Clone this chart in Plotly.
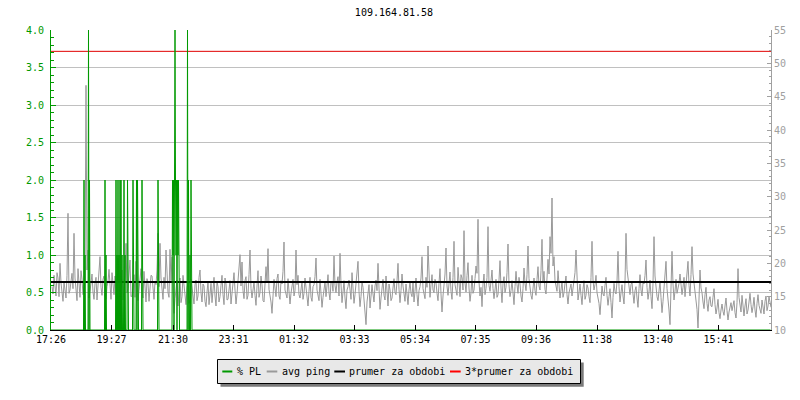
import plotly.graph_objects as go

# ---------------- data ----------------
title_text = "109.164.81.58"

x_tick_minutes = [0, 121, 244, 365, 486, 607, 728, 849, 970, 1092, 1214, 1335]
x_tick_labels = ["17:26", "19:27", "21:30", "23:31", "01:32", "03:33",
                 "05:34", "07:35", "09:36", "11:38", "13:40", "15:41"]

# avg ping (ms), one reading every 2 minutes starting at minute 2
ping_start = 2
ping_step = 2
avg_ping = [
    16.5, 15.4, 18.2, 16.9, 15.1, 18.6, 17.8, 15.0, 20.0, 17.1, 15.6, 14.3, 17.2, 16.0, 14.8, 18.2, 27.5, 15.5, 16.0, 17.3,
    18.5, 16.2, 24.5, 17.8, 15.5, 14.4, 19.2, 16.6, 14.9, 18.9, 17.6, 15.3, 16.2, 17.5, 46.7, 19.0, 22.0, 14.8, 15.8, 16.9,
    18.4, 15.7, 14.6, 17.0, 17.9, 14.5, 16.3, 18.3, 21.0, 16.4, 15.2, 17.6, 18.1, 15.1, 14.7, 16.5, 17.3, 19.1, 16.0, 14.6,
    18.6, 16.8, 15.3, 18.1, 17.0, 14.7, 20.8, 17.2, 14.9, 16.3, 19.0, 14.5, 15.8, 17.9, 23.0, 15.6, 16.2, 18.4, 20.5, 15.0,
    15.1, 16.6, 18.3, 14.9, 20.3, 17.4, 14.4, 16.0, 17.5, 19.2, 16.1, 14.8, 18.8, 16.4, 14.2, 17.7, 17.0, 14.3, 15.9, 18.2,
    18.1, 15.9, 14.6, 17.3, 16.8, 19.0, 24.5, 16.5, 23.0, 17.8, 15.3, 14.6, 17.9, 16.2, 22.0, 18.0, 15.6, 14.9, 22.1, 17.4,
    21.0, 15.8, 12.5, 14.7, 16.2, 17.5, 13.6, 15.4, 17.8, 14.1, 15.0, 18.2, 16.9, 15.2, 13.8, 16.4, 17.1, 14.0, 14.5, 17.6,
    16.4, 15.0, 13.9, 16.8, 17.5, 14.4, 15.1, 17.9, 19.0, 15.6, 14.2, 16.9, 16.6, 14.3, 13.5, 15.7, 17.3, 13.8, 15.4, 17.0,
    14.1, 16.2, 17.9, 15.1, 13.6, 17.3, 16.5, 14.2, 15.0, 16.7, 18.2, 15.3, 13.8, 17.8, 16.9, 14.5, 14.6, 16.0, 17.4, 13.9,
    15.3, 17.1, 18.6, 16.0, 13.9, 15.4, 17.0, 18.5, 21.3, 16.6, 20.2, 15.9, 14.7, 17.4, 18.0, 14.6, 15.2, 18.3, 22.0, 16.2,
    14.8, 16.0, 17.3, 15.2, 13.7, 16.6, 18.9, 14.9, 15.6, 18.1, 16.8, 14.4, 14.2, 16.9, 19.5, 17.3, 22.2, 16.1, 15.4, 14.2,
    12.5, 15.6, 17.6, 16.3, 15.0, 17.7, 18.4, 15.1, 14.6, 17.4, 16.9, 18.8, 23.2, 16.0, 15.3, 14.8, 17.7, 16.2, 13.9, 15.5,
    16.4, 17.6, 15.1, 15.9, 22.0, 16.8, 18.2, 15.3, 14.8, 16.1, 17.3, 14.6, 15.5, 17.8, 16.6, 15.0, 13.6, 15.8, 17.9, 14.9,
    14.3, 16.5, 16.8, 18.0, 20.8, 16.0, 15.2, 14.4, 17.6, 15.5, 13.4, 14.9, 16.1, 17.2, 15.0, 16.3, 18.3, 15.6, 14.5, 17.3,
    17.2, 15.8, 21.1, 16.7, 15.6, 17.2, 18.0, 15.1, 21.5, 16.9, 14.1, 15.7, 17.4, 14.8, 13.2, 16.0, 16.5, 17.5, 15.3, 14.6,
    18.6, 16.1, 14.0, 15.3, 16.7, 17.9, 20.3, 15.8, 13.5, 15.0, 17.2, 16.4, 14.6, 13.1, 10.8, 14.2, 15.9, 16.8, 13.3, 15.2,
    16.8, 15.4, 14.2, 16.6, 17.5, 15.9, 20.0, 16.3, 13.1, 14.8, 16.4, 17.6, 15.2, 14.5, 18.1, 15.7, 13.6, 16.9, 16.0, 14.4,
    14.8, 16.3, 17.7, 15.6, 15.3, 17.4, 20.0, 16.1, 14.1, 15.9, 18.4, 16.6, 15.7, 14.3, 16.9, 15.2, 13.8, 16.0, 17.2, 15.5,
    15.0, 17.1, 14.2, 15.8, 17.8, 15.3, 13.6, 15.9, 16.5, 17.8, 21.0, 16.2, 15.4, 14.7, 17.9, 16.4, 22.6, 17.0, 14.9, 16.8,
    18.3, 16.0, 15.6, 17.6, 17.1, 15.5, 14.4, 17.0, 19.2, 15.4, 12.7, 15.1, 16.8, 18.4, 22.3, 16.6, 15.2, 17.2, 18.7, 15.8,
    14.6, 17.9, 23.3, 16.8, 16.1, 15.2, 19.4, 16.7, 15.0, 18.3, 17.8, 16.0, 24.9, 17.1, 15.7, 18.2, 20.1, 16.3, 14.3, 15.6,
    18.2, 15.5, 16.0, 17.7, 19.6, 18.5, 26.6, 17.2, 15.1, 16.4, 13.5, 16.9, 18.4, 15.3, 16.2, 17.9, 25.5, 16.7, 15.8, 17.4,
    19.0, 16.2, 14.7, 16.0, 17.6, 14.9, 15.3, 17.5, 20.4, 16.3, 14.1, 17.0, 18.0, 15.6, 16.4, 18.6, 22.9, 16.8, 15.0, 15.9,
    17.4, 15.6, 13.8, 16.5, 18.8, 16.8, 15.5, 17.9, 16.9, 15.1, 14.2, 16.2, 19.3, 17.0, 15.9, 18.3, 22.6, 17.7, 16.3, 15.2,
    14.6, 16.4, 17.8, 15.9, 15.2, 17.6, 19.5, 16.6, 16.0, 18.9, 23.6, 17.3, 18.8, 16.1, 15.4, 17.8, 20.6, 18.4, 24.0, 21.5,
    29.8, 19.6, 21.0, 17.4, 16.7, 15.8, 18.9, 16.5, 14.8, 16.0, 17.3, 14.9, 15.6, 17.0, 18.1, 15.3, 13.9, 15.6, 16.4, 16.9,
    15.1, 16.2, 17.7, 18.6, 22.0, 16.4, 14.5, 15.6, 16.9, 15.2, 13.8, 16.1, 17.4, 14.6, 15.2, 16.8, 16.3, 15.0, 14.1, 17.9,
    23.3, 17.5, 16.0, 16.8, 18.2, 15.6, 14.7, 14.0, 12.3, 14.6, 16.6, 15.4, 15.1, 16.7, 17.9, 15.2, 13.7, 15.0, 16.2, 14.1,
    11.8, 14.9, 17.0, 15.8, 15.4, 17.3, 21.8, 16.5, 14.2, 15.6, 16.8, 15.1, 13.9, 17.2, 24.5, 19.1, 18.0, 16.2, 15.3, 16.8,
    17.2, 15.4, 14.0, 15.9, 16.5, 14.8, 13.4, 16.2, 18.3, 16.0, 15.1, 17.1, 16.9, 18.2, 20.5, 16.4, 14.6, 15.7, 17.5, 15.0,
    13.2, 17.0, 24.0, 18.1, 16.1, 15.0, 14.4, 16.6, 17.3, 14.9, 12.6, 14.3, 15.9, 17.6, 20.3, 16.2, 14.8, 13.0, 10.8, 15.4,
    21.8, 16.9, 14.5, 15.8, 17.6, 15.5, 16.2, 17.0, 18.4, 16.1, 15.3, 16.4, 17.9, 15.0, 16.6, 17.8, 20.3, 16.7, 15.1, 18.3,
    22.5, 18.4, 17.2, 15.6, 14.9, 13.1, 10.3, 14.6, 19.0, 16.3, 15.6, 14.2, 13.2, 15.3, 16.4, 14.0, 12.8, 14.5, 15.0, 13.6,
    13.5, 14.9, 16.2, 13.8, 12.4, 13.3, 14.6, 12.6, 11.7, 13.0, 13.9, 12.8, 12.2, 13.6, 14.8, 12.9, 11.5, 12.7, 13.6, 14.1,
    12.9, 13.7, 14.4, 12.6, 11.8, 14.1, 19.2, 14.9, 13.5, 12.7, 15.2, 13.4, 12.1, 13.6, 14.7, 12.4, 13.0, 14.2, 15.5, 13.8,
    12.6, 13.5, 14.9, 13.0, 11.9, 14.0, 15.3, 13.7, 13.2, 12.5, 14.5, 13.6, 12.4, 14.3, 15.1, 12.9, 13.6, 15.0, 14.2, 13.4,
]

# packet loss (%) – minutes with non-zero loss; every other minute is 0
pl_minutes = [66, 68, 75, 77, 108, 110, 130, 132, 134, 136, 138, 140, 142, 146, 148,
              153, 164, 171, 173, 182, 214,
              243, 244, 245, 247, 248, 249, 250, 251, 253, 254, 255,
              273, 275, 278, 280]
pl_values = [2, 1, 4, 2, 2, 1, 2, 1, 2, 1, 2, 2, 1, 2, 1,
             2, 2, 2, 2, 2, 2,
             2, 1, 2, 2, 4, 2, 1, 2, 2, 1, 2,
             4, 2, 1, 2]
total_minutes = 1440

mean_ping = 17.2          # prumer za obdobi
triple_mean_ping = 51.8   # 3*prumer za obdobi

legend_names = ["% PL", "avg ping", "prumer za obdobi", "3*prumer za obdobi"]

# ---------------- styling ----------------
GREEN = "#009900"
GRAY = "#999999"
RED = "#e00000"
FONT = "DejaVu Sans Mono"

ping_x = [ping_start + ping_step * i for i in range(len(avg_ping))]
pl_series = [0] * total_minutes
for m, v in zip(pl_minutes, pl_values):
    pl_series[m] = v

fig = go.Figure()
fig.add_trace(go.Scatter(x=ping_x, y=avg_ping, mode="lines", name=legend_names[1],
                         line=dict(color=GRAY, width=1), yaxis="y"))
fig.add_trace(go.Scatter(x=[0, total_minutes], y=[mean_ping, mean_ping], mode="lines",
                         name=legend_names[2], line=dict(color="black", width=2), yaxis="y"))
fig.add_trace(go.Scatter(x=[0, total_minutes], y=[triple_mean_ping, triple_mean_ping],
                         mode="lines", name=legend_names[3],
                         line=dict(color=RED, width=1), yaxis="y"))
fig.add_trace(go.Scatter(x=list(range(total_minutes)), y=pl_series, mode="lines",
                         name=legend_names[0], line=dict(color=GREEN, width=1),
                         yaxis="y2"))

W, H = 800, 400
L, R, T, B = 51, 29, 30, 70
pw, ph = W - L - R, H - T - B


def px(xp):
    return (xp - L) / pw


def py(yp):
    return (H - B - yp) / ph


shapes = [
    dict(type="rect", xref="paper", yref="paper", x0=px(220.5), x1=px(583.7),
         y0=py(386.7), y1=py(362.5), fillcolor="#7a7a7a", line=dict(width=0)),
    dict(type="rect", xref="paper", yref="paper", x0=px(217.5), x1=px(580.5),
         y0=py(383.5), y1=py(359.5), fillcolor="#e8e8e8", line=dict(color="black", width=1)),
]
legend_items = [
    (222.3, 232.3, 236.5, GREEN, legend_names[0]),
    (266.7, 277.3, 280.5, "#9a9a9a", legend_names[1]),
    (334.3, 345.0, 348.3, "black", legend_names[2]),
    (450.0, 460.7, 464.3, "#ff0000", legend_names[3]),
]
annotations = []
for x0, x1, tx, col, name in legend_items:
    shapes.append(dict(type="line", xref="paper", yref="paper", x0=px(x0), x1=px(x1),
                       y0=py(371.5), y1=py(371.5), line=dict(color=col, width=2)))
    annotations.append(dict(text=name, xref="paper", yref="paper", x=px(tx), y=py(371),
                            xanchor="left", yanchor="middle", showarrow=False, borderpad=0,
                            font=dict(family=FONT, size=10, color="black")))

fig.update_layout(
    width=W, height=H,
    margin=dict(l=L, r=R, t=T, b=B, autoexpand=False),
    paper_bgcolor="white", plot_bgcolor="white",
    showlegend=False,
    font=dict(family=FONT, size=10, color="black"),
    title=dict(text=title_text, x=px(394), xref="paper", xanchor="center",
               y=1 - 12 / H, yanchor="middle",
               font=dict(family=FONT, size=10, color="black")),
    xaxis=dict(range=[0, total_minutes], tickvals=x_tick_minutes, ticktext=x_tick_labels,
               ticks="inside", ticklen=5, tickcolor="black", showline=True,
               linecolor="black", linewidth=1, showgrid=False, zeroline=False,
               tickfont=dict(family=FONT, size=10, color="black")),
    yaxis=dict(side="right", range=[10, 55], tick0=10, dtick=5, ticks="inside",
               ticklen=4, tickcolor="#a0a0a0", showline=True, linecolor="#a0a0a0",
               showgrid=False, zeroline=False,
               tickfont=dict(family=FONT, size=10, color="#a0a0a0"),
               minor=dict(dtick=1, ticks="inside", ticklen=2, tickcolor="#a0a0a0",
                          showgrid=False)),
    yaxis2=dict(overlaying="y", side="left", range=[0, 4], tick0=0, dtick=0.5,
                tickformat=".1f", ticks="inside", ticklen=5, tickcolor=GREEN,
                showline=True, linecolor=GREEN, linewidth=1, showgrid=True,
                gridcolor="#c0c0c0", gridwidth=1, zeroline=False, ticklabelstandoff=4,
                tickfont=dict(family=FONT, size=10, color=GREEN),
                minor=dict(dtick=0.1, ticks="inside", ticklen=3, tickcolor=GREEN,
                           showgrid=False)),
    shapes=shapes,
    annotations=annotations,
)

fig.write_html("out.html", config={"displayModeBar": False},
               post_script="document.body.style.margin='0';")
